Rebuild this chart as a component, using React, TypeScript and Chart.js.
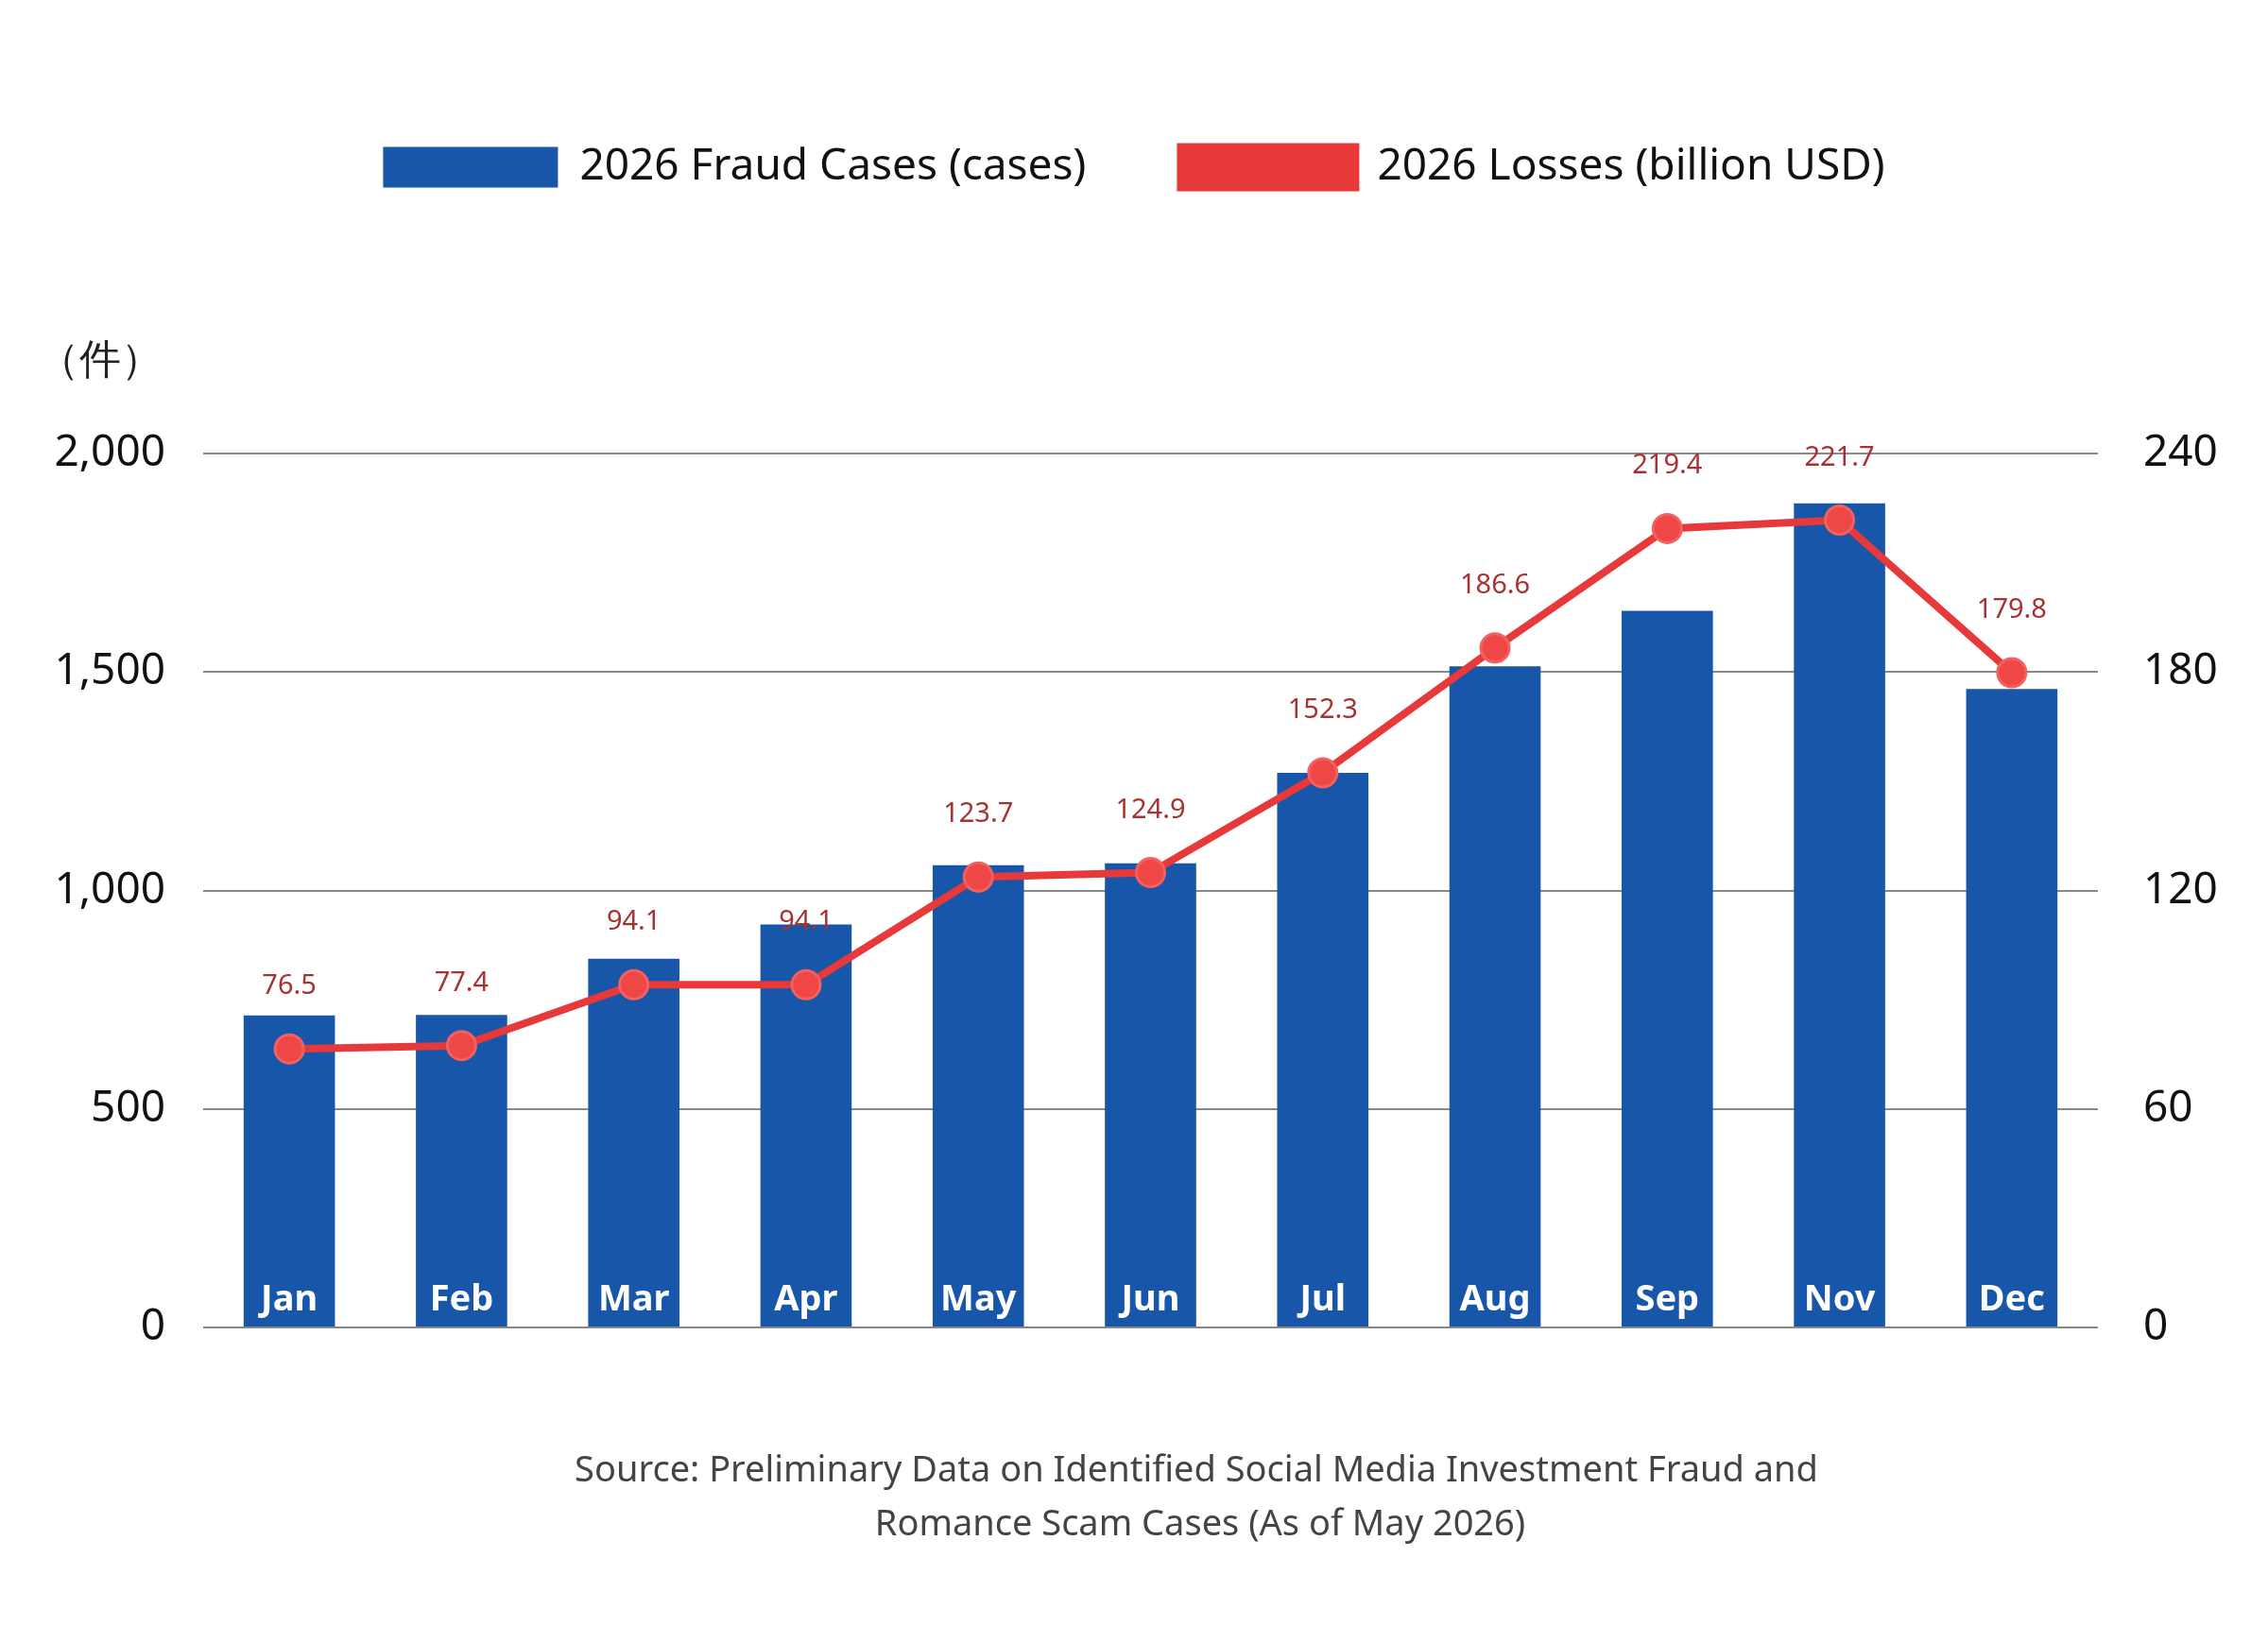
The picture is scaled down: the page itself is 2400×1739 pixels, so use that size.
import React, { useEffect, useRef } from "react";
import { Chart, registerables } from "chart.js";
Chart.register(...registerables);

const months = ["Jan", "Feb", "Mar", "Apr", "May", "Jun", "Jul", "Aug", "Sep", "Nov", "Dec"];
const cases = [714, 715, 844, 922, 1058, 1062, 1269, 1513, 1640, 1886, 1461];
const losses = [76.5, 77.4, 94.1, 94.1, 123.7, 124.9, 152.3, 186.6, 219.4, 221.7, 179.8];
const sourceLines = [
  "Source: Preliminary Data on Identified Social Media Investment Fraud and",
  "Romance Scam Cases (As of May 2026)",
];
const FONT = "'Noto Sans', sans-serif";

const extras = {
  id: "extras",
  afterDatasetsDraw(chart: any) {
    const ctx = chart.ctx;
    const bars = chart.getDatasetMeta(1).data;
    const pts = chart.getDatasetMeta(0).data;
    ctx.save();
    ctx.textAlign = "center";
    ctx.textBaseline = "alphabetic";
    ctx.fillStyle = "#ffffff";
    ctx.font = `bold 38px ${FONT}`;
    bars.forEach((b: any, i: number) => ctx.fillText(months[i], b.x, chart.chartArea.bottom - 18));
    ctx.fillStyle = "#a83232";
    ctx.font = `29px ${FONT}`;
    pts.forEach((p: any, i: number) => ctx.fillText(losses[i].toFixed(1), p.x, p.y - 58));
    ctx.fillStyle = "#222";
    ctx.font = `44px ${FONT}`;
    ctx.textAlign = "left";
    ctx.fillText("（件）", 40, 395);
    ctx.fillStyle = "#444";
    ctx.textAlign = "center";
    ctx.font = `38px ${FONT}`;
    ctx.fillText(sourceLines[0], 1266, 1568);
    ctx.fillText(sourceLines[1], 1270, 1625);
    ctx.restore();
  },
};

export default function App() {
  const ref = useRef<HTMLCanvasElement>(null);
  useEffect(() => {
    const chart = new Chart(ref.current!, {
      type: "bar",
      data: {
        labels: months,
        datasets: [
          {
            type: "line",
            label: "2026 Losses (billion USD)",
            data: losses,
            yAxisID: "y1",
            borderColor: "#e8393a",
            backgroundColor: "#e8393a",
            borderWidth: 8,
            pointRadius: 15,
            pointBackgroundColor: "#ef4646",
            pointBorderColor: "#f26060",
            pointBorderWidth: 3,
            order: 0,
          } as any,
          {
            type: "bar",
            label: "2026 Fraud Cases (cases)",
            data: cases,
            yAxisID: "y",
            backgroundColor: "#1756a9",
            barPercentage: 0.53,
            categoryPercentage: 1,
            order: 1,
          },
        ],
      },
      options: {
        animation: false,
        responsive: false,
        layout: { padding: { top: 54, left: 20, right: 20, bottom: 326 } },
        plugins: {
          legend: {
            reverse: true,
            labels: {
              font: { family: FONT, size: 46 },
              color: "#111",
              boxWidth: 185,
              boxHeight: 43,
              padding: 100,
            },
          },
          tooltip: { enabled: false },
        },
        scales: {
          x: { grid: { display: false }, ticks: { display: false }, border: { display: false } },
          y: {
            min: 0,
            max: 2000,
            ticks: { stepSize: 500, font: { family: FONT, size: 46 }, color: "#111", padding: 40 },
            grid: { color: "#888", lineWidth: 2, drawTicks: false },
            border: { display: false },
            afterFit: (s: any) => { s.width = 195; },
          },
          y1: {
            position: "right",
            min: 0,
            max: 240,
            ticks: { stepSize: 60, font: { family: FONT, size: 46 }, color: "#111", padding: 40 },
            grid: { display: false },
            border: { display: false },
            afterFit: (s: any) => { s.width = 160; },
          },
        },
      },
      plugins: [
        extras,
        {
          id: "legendGap",
          beforeInit(c: any) {
            const orig = c.legend.fit;
            c.legend.fit = function () { orig.call(this); this.height += 270; };
          },
        },
      ],
    });
    return () => chart.destroy();
  }, []);
  return (
    <div style={{ margin: -8, width: 2400, height: 1739, background: "#fff" }}>
      <canvas ref={ref} width={2400} height={1739} style={{ width: 2400, height: 1739 }} />
    </div>
  );
}
